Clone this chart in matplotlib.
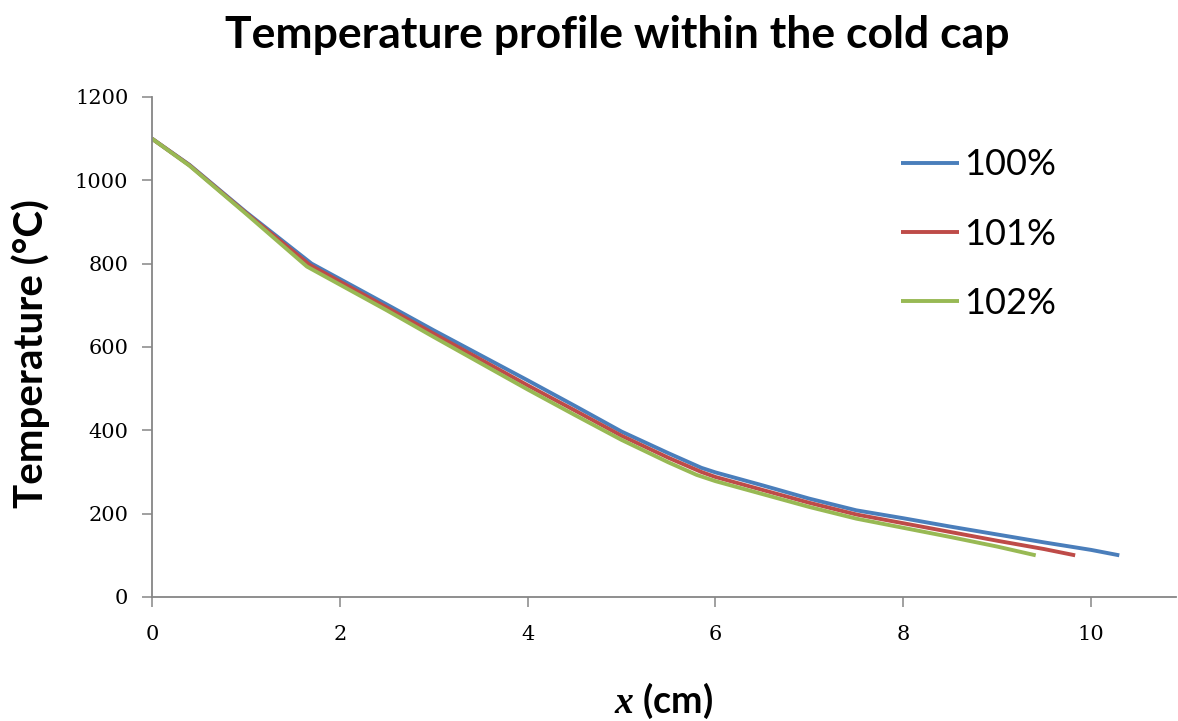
import matplotlib
matplotlib.use("Agg")
import matplotlib.pyplot as plt

# ---- data ----
x_100 = [0, 0.4, 1.0, 1.7, 2.5, 3.0, 4.0, 4.5, 5.0, 5.5, 5.85, 6.0, 6.5, 7.0, 7.5, 8.0, 8.5, 9.0, 9.5, 10.0, 10.3]
t_100 = [1100, 1037, 924, 800, 702, 640, 520, 459, 397, 345, 310, 299, 268, 236, 208, 189, 169, 150, 131, 113, 100]

x_101 = [0, 0.4, 1.0, 1.68, 2.5, 3.0, 4.0, 4.5, 5.0, 5.5, 5.85, 6.0, 6.5, 7.0, 7.5, 8.0, 8.5, 9.0, 9.5, 9.83]
t_101 = [1100, 1036, 922, 797, 695, 632, 508, 448, 387, 334, 300, 288, 257, 226, 198, 177, 156, 135, 115, 100]

x_102 = [0, 0.4, 1.0, 1.65, 2.5, 3.0, 4.0, 4.5, 5.0, 5.5, 5.8, 6.0, 6.5, 7.0, 7.5, 8.0, 8.5, 9.0, 9.41]
t_102 = [1100, 1035, 920, 793, 688, 624, 498, 437, 377, 323, 293, 278, 247, 216, 188, 166, 144, 121, 100]

series_labels = ["100%", "101%", "102%"]
colors = ["#4A7EBB", "#BE4B48", "#98B954"]

x_ticks = [0, 2, 4, 6, 8, 10]
y_ticks = [0, 200, 400, 600, 800, 1000, 1200]

plt.rcParams['mathtext.fontset'] = 'custom'
plt.rcParams['mathtext.it'] = 'Liberation Serif:italic:bold'
plt.rcParams['mathtext.rm'] = 'Lato:bold'

fig = plt.figure(figsize=(11.78, 7.21), dpi=100)
ax = fig.add_axes([0.129, 0.172, 0.869, 0.6935])

for xs, ts, lab, c in zip([x_100, x_101, x_102], [t_100, t_101, t_102], series_labels, colors):
    ax.plot(xs, ts, color=c, lw=2.8, label=lab, solid_capstyle='butt')

ax.set_xlim(0, 10.9)
ax.set_ylim(0, 1200)
ax.set_xticks(x_ticks)
ax.set_yticks(y_ticks)

for s in ['top', 'right']:
    ax.spines[s].set_visible(False)
for s in ['left', 'bottom']:
    ax.spines[s].set_color('#868686')
    ax.spines[s].set_linewidth(1.3)

ax.tick_params(axis='both', direction='out', length=7, width=1.1, color='#868686')
ax.tick_params(axis='x', pad=13)
ax.tick_params(axis='y', pad=10)
for lbl in ax.get_xticklabels() + ax.get_yticklabels():
    lbl.set_fontfamily('DejaVu Serif')
    lbl.set_fontsize(15)
    lbl.set_color('black')

ax.set_ylabel("Temperature (°C)", fontfamily='Lato', fontweight='bold', fontsize=29)
ax.yaxis.set_label_coords(-0.0996, 0.486)
ax.set_xlabel(r"$x$ (cm)", fontfamily='Lato', fontweight='bold', fontsize=27)
ax.xaxis.set_label_coords(0.5, -0.168)

fig.text(0.524, 0.951, "Temperature profile within the cold cap", ha='center', va='center',
         fontfamily='Lato', fontweight='bold', fontsize=32)

leg = ax.legend(loc='upper right', bbox_to_anchor=(0.915, 0.962), frameon=False,
                prop={'family': 'Lato', 'size': 26}, handlelength=1.6, handletextpad=0.15,
                labelspacing=1.0)

fig.savefig("out.png", dpi=100, facecolor='white')
